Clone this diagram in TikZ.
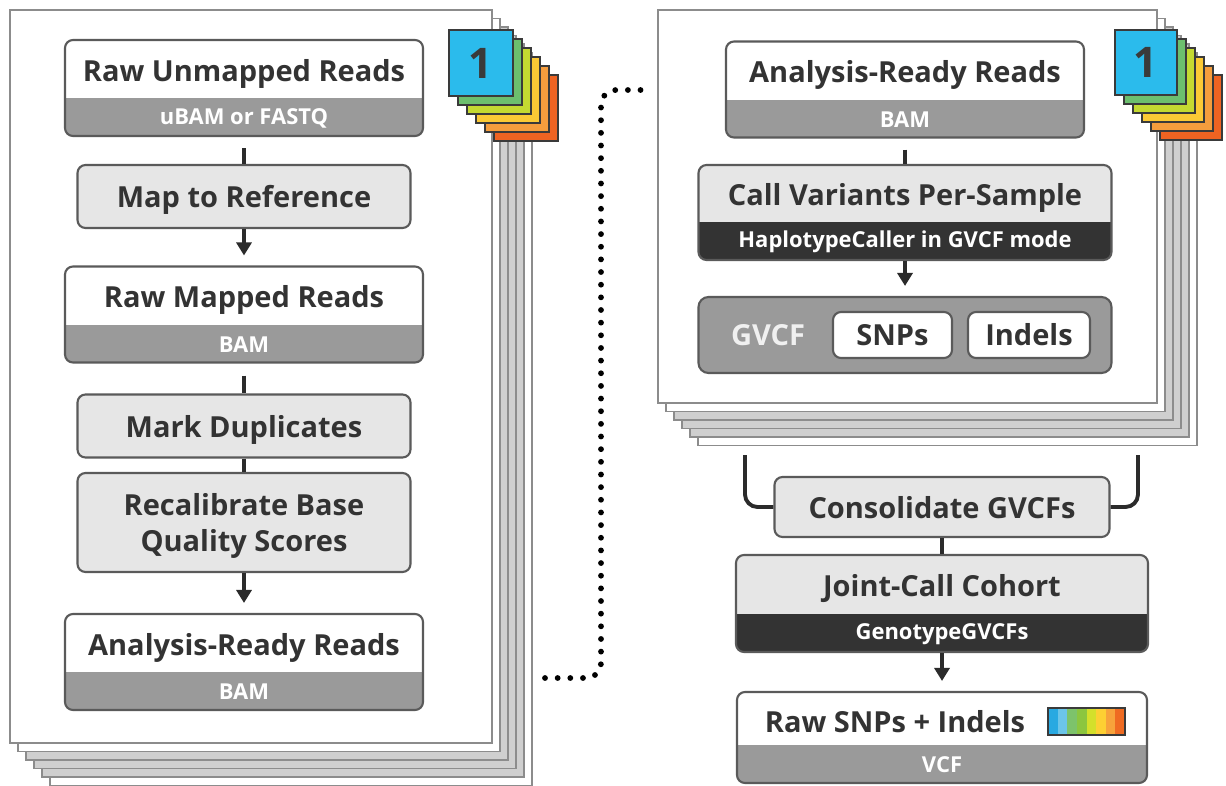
\documentclass[tikz,border=0pt]{standalone}
\usepackage{fontspec}
\setmainfont{Open Sans}
\usetikzlibrary{arrows.meta}
\definecolor{boxline}{HTML}{5A5A5A}
\definecolor{pageline}{HTML}{8C8C8C}
\definecolor{pagegray}{HTML}{CFCFCF}
\definecolor{bandgray}{HTML}{9A9A9A}
\definecolor{banddark}{HTML}{333333}
\definecolor{stepgray}{HTML}{E6E6E6}
\definecolor{linkc}{HTML}{2B2B2B}
\definecolor{titletext}{HTML}{333333}
\definecolor{tabline}{HTML}{3A3A3A}
\definecolor{tabblue}{HTML}{2BBBEC}
\definecolor{tabgreen}{HTML}{6CBF6E}
\definecolor{tablime}{HTML}{C4D931}
\definecolor{tabyellow}{HTML}{FBC935}
\definecolor{taborange}{HTML}{F59D3D}
\definecolor{tabred}{HTML}{EE6322}
\definecolor{bara}{HTML}{29A9E1}
\definecolor{barb}{HTML}{6CC5E9}
\definecolor{barc}{HTML}{7DC36B}
\definecolor{bard}{HTML}{8CC63F}
\definecolor{bare}{HTML}{D4E02B}
\definecolor{barf}{HTML}{FDD033}
\definecolor{barg}{HTML}{F7A33B}
\definecolor{barh}{HTML}{EF6B22}

\tikzset{
  page/.style={draw=pageline, line width=1pt},
  tab/.style={draw=tabline, line width=1.2pt},
  twotone/.style 2 args={fill=#2,
    path picture={\fill[#1, sharp corners] (path picture bounding box.north west)
      rectangle ([yshift=0.76cm]path picture bounding box.south east);}},
  filebox/.style={draw=boxline, line width=1.2pt, rounded corners=0.16cm,
    twotone={white}{bandgray}, minimum width=7.16cm, minimum height=1.92cm},
  toolbox/.style={draw=boxline, line width=1.2pt, rounded corners=0.16cm,
    twotone={stepgray}{banddark}, minimum width=8.26cm, minimum height=1.9cm},
  stepbox/.style={draw=boxline, line width=1.2pt, rounded corners=0.16cm, fill=stepgray,
    minimum width=6.66cm, minimum height=1.26cm, text=titletext, text depth=0pt,
    font=\fontsize{16.5}{21}\selectfont\bfseries},
  title/.style={text=titletext, inner sep=0pt, font=\fontsize{16.5}{20}\selectfont\bfseries},
  subtitle/.style={text=white, inner sep=0pt, font=\fontsize{12.5}{15}\selectfont\bfseries},
  link/.style={draw=linkc, line width=2pt},
  flow/.style={link, -{Triangle[width=0.3cm,length=0.26cm]}, shorten >=0.2cm},
  bracket/.style={draw=linkc, line width=2.2pt, rounded corners=0.25cm},
  dotline/.style={draw=black, line width=3.3pt, line cap=round,
    dash pattern=on 0pt off 7.2pt, rounded corners=0.3cm},
}

\begin{document}
\begin{tikzpicture}
\useasboundingbox (0,0) rectangle (24.52,-15.7);

% Left sample stack
\foreach \k/\col in {5/white,4/pagegray,3/pagegray,2/pagegray,1/white,0/white}
  \draw[page, fill=\col, shift={(\k*0.16,-\k*0.17)}] (0.2,-0.2) rectangle (9.84,-14.86);
\foreach \k/\col in {5/tabred,4/taborange,3/tabyellow,2/tablime,1/tabgreen}
  \draw[tab, fill=\col, shift={(\k*0.18,-\k*0.18)}] (8.98,-0.6) rectangle (10.26,-1.92);
\node[tab, fill=tabblue, minimum width=1.28cm, minimum height=1.32cm, text=tabline,
  font=\fontsize{24}{28}\selectfont\bfseries] (ltab) at (9.62,-1.26) {1};

% Right sample stack
\foreach \k/\col in {5/white,4/pagegray,3/pagegray,2/pagegray,1/white,0/white}
  \draw[page, fill=\col, shift={(\k*0.16,-\k*0.17)}] (13.16,-0.2) rectangle (23.14,-8.06);
\foreach \k/\col in {5/tabred,4/taborange,3/tabyellow,2/tablime,1/tabgreen}
  \draw[tab, fill=\col, shift={(\k*0.18,-\k*0.18)}] (22.3,-0.6) rectangle (23.54,-1.9);
\node[tab, fill=tabblue, minimum width=1.24cm, minimum height=1.3cm, text=tabline,
  font=\fontsize{24}{28}\selectfont\bfseries] (rtab) at (22.92,-1.25) {1};

% Pre-processing
\node[filebox] (raw) at (4.88,-1.76) {};
\node[title] (raw-t) at ([yshift=0.29cm]raw.center) {Raw Unmapped Reads};
\node[subtitle] (raw-s) at ([yshift=0.38cm]raw.south) {uBAM or FASTQ};
\node[stepbox] (map) at (4.88,-3.93) {Map to Reference};
\node[filebox] (mapped) at (4.88,-6.29) {};
\node[title] (mapped-t) at ([yshift=0.29cm]mapped.center) {Raw Mapped Reads};
\node[subtitle] (mapped-s) at ([yshift=0.38cm]mapped.south) {BAM};
\node[stepbox] (dup) at (4.88,-8.52) {Mark Duplicates};
\node[stepbox, minimum height=1.98cm, align=center] (recal) at (4.88,-10.45)
  {Recalibrate Base\\Quality Scores};
\node[filebox] (ready) at (4.88,-13.24) {};
\node[title] (ready-t) at ([yshift=0.29cm]ready.center) {Analysis-Ready Reads};
\node[subtitle] (ready-s) at ([yshift=0.38cm]ready.south) {BAM};

\draw[link, shorten <=0.22cm] (raw) -- (map);
\draw[flow] (map) -- (mapped);
\draw[link, shorten <=0.24cm] (mapped) -- (dup);
\draw[link] (dup) -- (recal);
\draw[flow] (recal) -- (ready);

% Variant discovery
\node[filebox] (rready) at (18.1,-1.79) {};
\node[title] (rready-t) at ([yshift=0.29cm]rready.center) {Analysis-Ready Reads};
\node[subtitle] (rready-s) at ([yshift=0.38cm]rready.south) {BAM};
\node[toolbox] (call) at (18.1,-4.25) {};
\node[title] (call-t) at ([yshift=0.29cm]call.center) {Call Variants Per-Sample};
\node[subtitle] (call-s) at ([yshift=0.38cm]call.south) {HaplotypeCaller in GVCF mode};
\node[draw=boxline, line width=1.2pt, rounded corners=0.2cm, fill=bandgray,
  minimum width=8.26cm, minimum height=1.52cm] (gvcf) at (18.1,-6.7) {};
\node[title, text=white!94!black] (gvcf-t) at (15.36,-6.7) {GVCF};
\node[draw=boxline, line width=1.2pt, rounded corners=0.16cm, fill=white,
  minimum width=2.38cm, minimum height=0.92cm, title] (snps) at (17.85,-6.7) {SNPs};
\node[draw=boxline, line width=1.2pt, rounded corners=0.16cm, fill=white,
  minimum width=2.44cm, minimum height=0.92cm, title] (indels) at (20.58,-6.7) {Indels};

\draw[link, shorten <=0.22cm] (rready) -- (call);
\draw[flow] (call) -- (gvcf);

% Joint calling
\node[stepbox, minimum width=6.7cm, minimum height=1.2cm] (consol) at (18.84,-10.14) {Consolidate GVCFs};
\node[toolbox, minimum width=8.24cm, minimum height=1.94cm] (joint) at (18.84,-12.07) {};
\node[title] (joint-t) at ([yshift=0.29cm]joint.center) {Joint-Call Cohort};
\node[subtitle] (joint-s) at ([yshift=0.38cm]joint.south) {GenotypeGVCFs};
\node[filebox, minimum width=8.2cm, minimum height=1.82cm] (vcf) at (18.84,-14.75) {};
\node[title] (vcf-t) at ([xshift=-0.94cm,yshift=0.31cm]vcf.center) {Raw SNPs + Indels};
\node[subtitle] (vcf-s) at ([yshift=0.38cm]vcf.south) {VCF};
\node[draw=tabline, line width=1pt, minimum width=1.54cm, minimum height=0.54cm, inner sep=0pt,
  path picture={\foreach \c [count=\i from 0] in {bara,barb,barc,bard,bare,barf,barg,barh}
    \fill[\c] ([xshift=\i*0.1925cm]path picture bounding box.south west)
      rectangle ([xshift=\i*0.1925cm+0.1925cm]path picture bounding box.north west);}]
  (cbar) at (21.73,-14.43) {};

\coordinate (bl) at (14.9,-9.1);
\coordinate (br) at (22.76,-9.1);
\draw[bracket] (bl) |- (consol.west);
\draw[bracket] (br) |- (consol.east);
\draw[link] (consol) -- (joint);
\draw[flow] (joint) -- (vcf);

% Hand-off between the two stages
\coordinate (dotA) at (10.9,-13.56);
\coordinate (dotM) at (12.02,-7);
\coordinate (dotB) at (12.86,-1.8);
\draw[dotline] (dotA) -| (dotM) |- (dotB);
\end{tikzpicture}
\end{document}
